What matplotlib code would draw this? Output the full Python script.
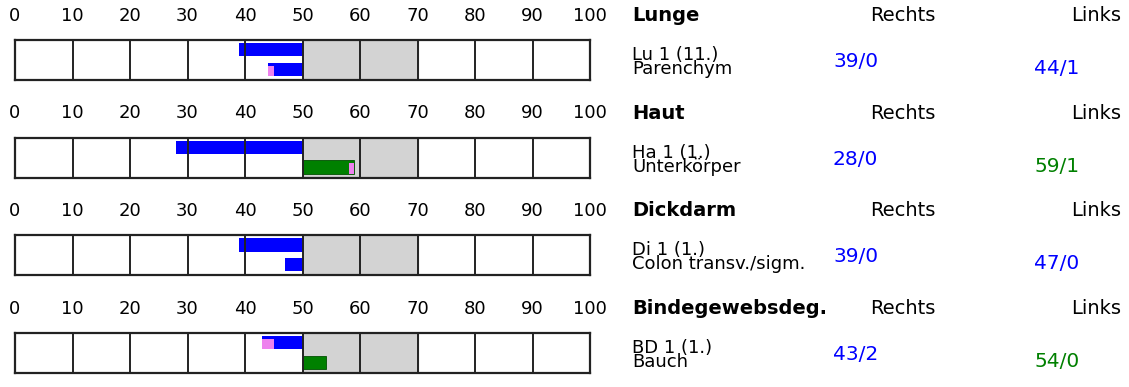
import matplotlib
matplotlib.use('Agg')
import matplotlib.pyplot as plt

# values per organ: (value, part shown in violet)
categories = ['Lunge', 'Haut', 'Dickdarm', 'Bindegewebsdeg.']
codes = ['Lu 1 (11.)', 'Ha 1 (1.)', 'Di 1 (1.)', 'BD 1 (1.)']
sites = ['Parenchym', 'Unterkörper', 'Colon transv./sigm.', 'Bauch']
rechts = [(39, 0), (28, 0), (39, 0), (43, 2)]
links = [(44, 1), (59, 1), (47, 0), (54, 0)]
ticks = list(range(0, 101, 10))

W, H = 1129, 387
BLUE = '#0000ff'
GREEN = '#008000'
PINK = '#ee82ee'
plt.rcParams['font.family'] = ['DejaVu Sans']

fig = plt.figure(figsize=(W / 100, H / 100), dpi=100)


def fx(x):
    return x / W


def fy(y):
    return 1 - y / H


def draw_bar(ax, val, extra, y0, h):
    # bar grows from 50 towards the value, violet part sits at the value end
    if val < 50:
        ax.barh(y0, 50 - val, left=val, height=h, color=BLUE, align='edge', zorder=3)
        if extra:
            ax.barh(y0 + 0.07, extra, left=val, height=h - 0.07, color=PINK,
                    align='edge', zorder=4)
        return BLUE
    ax.barh(y0, val - 50, left=50, height=h, color=GREEN, align='edge', zorder=3,
            edgecolor='#005000', linewidth=0.6)
    if extra:
        ax.barh(y0 + 0.07, extra, left=val - extra, height=h - 0.07, color=PINK,
                align='edge', zorder=4)
    return GREEN


step = 97.6
for i, cat in enumerate(categories):
    top = 40 + step * i
    ax = fig.add_axes([fx(15), fy(top + 40), fx(590) - fx(15), 40 / H])
    ax.set_xlim(0, 100)
    ax.set_ylim(1, 0)
    ax.axvspan(50, 70, color='#d3d3d3', zorder=1)
    for t in ticks[1:-1]:
        ax.axvline(t, color='#222222', lw=1.4, zorder=5)
    for s in ax.spines.values():
        s.set_linewidth(1.6)
        s.set_color('#222222')
        s.set_zorder(6)
    ax.xaxis.tick_top()
    ax.set_xticks(ticks)
    ax.set_xticklabels([str(t) for t in ticks], fontsize=13)
    ax.tick_params(axis='x', length=0, pad=11)
    ax.set_yticks([])

    r_col = draw_bar(ax, rechts[i][0], rechts[i][1], 0.08, 0.33)
    l_col = draw_bar(ax, links[i][0], links[i][1], 0.57, 0.33)

    ty = 15 + step * i
    fig.text(fx(632), fy(ty + 6), cat, fontsize=14, fontweight='bold', va='baseline')
    fig.text(fx(936), fy(ty + 6), 'Rechts', fontsize=14, ha='right', va='baseline')
    fig.text(fx(1121), fy(ty + 6), 'Links', fontsize=14, ha='right', va='baseline')
    fig.text(fx(632), fy(ty + 47), codes[i] + '\n' + sites[i], fontsize=13,
             va='center', linespacing=0.72)
    fig.text(fx(833), fy(ty + 52), '%d/%d' % rechts[i], fontsize=14.5,
             color=r_col, va='baseline')
    fig.text(fx(1034), fy(ty + 59), '%d/%d' % links[i], fontsize=14.5,
             color=l_col, va='baseline')

fig.savefig('out.png', dpi=100)
